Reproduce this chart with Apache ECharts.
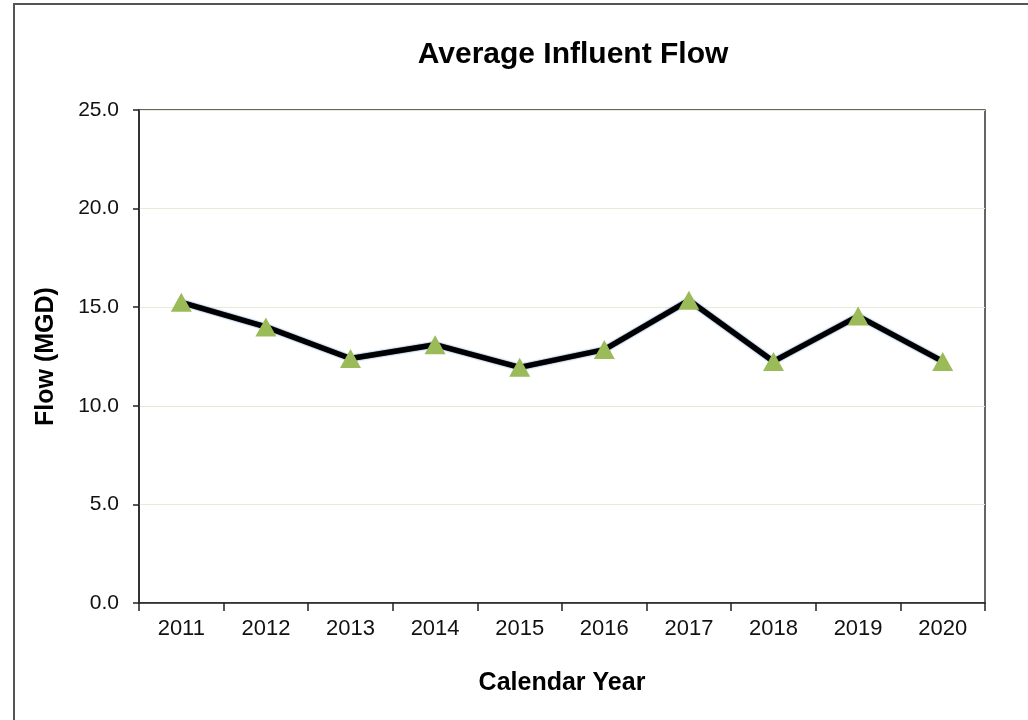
<!DOCTYPE html>
<html>
<head>
<meta charset="utf-8">
<script src="https://cdn.jsdelivr.net/npm/echarts@6/dist/echarts.min.js"></script>
<style>
  html, body { margin: 0; padding: 0; background: #fff; }
  #chart { width: 1028px; height: 720px; }
</style>
</head>
<body>
<div id="chart"></div>
<script>
// data
const years = ["2011", "2012", "2013", "2014", "2015", "2016", "2017", "2018", "2019", "2020"];
const flow = [15.25, 14.0, 12.4, 13.1, 11.95, 12.85, 15.35, 12.25, 14.55, 12.25];
const yTicks = [0, 5, 10, 15, 20, 25];

const chart = echarts.init(document.getElementById("chart"));
const font = "Liberation Sans, Arial, sans-serif";

chart.setOption({
  animation: false,
  backgroundColor: "#fff",
  title: {
    text: "Average Influent Flow",
    left: 568,
    top: 35,
    textAlign: "center",
    textStyle: { fontFamily: font, fontSize: 30, fontWeight: "bold", color: "#000" }
  },
  graphic: [
    {
      type: "rect",
      shape: { x: 14, y: 4, width: 1100, height: 800 },
      style: { fill: "none", stroke: "#555", lineWidth: 2 },
      silent: true
    }
  ],
  grid: { left: 139, right: 43, top: 110, bottom: 117, show: true, borderColor: "#333", borderWidth: 1.5 },
  xAxis: {
    type: "category",
    data: years,
    boundaryGap: true,
    name: "Calendar Year",
    nameLocation: "middle",
    nameGap: 68,
    nameTextStyle: { fontFamily: font, fontSize: 25, fontWeight: "bold", color: "#000" },
    axisLine: { lineStyle: { color: "#222", width: 1.5 } },
    axisTick: { show: true, length: 8, alignWithLabel: false, lineStyle: { color: "#222", width: 1.5 } },
    axisLabel: { fontFamily: font, fontSize: 22, color: "#111", margin: 15 },
    splitLine: { show: false }
  },
  yAxis: {
    type: "value",
    min: yTicks[0],
    max: yTicks[yTicks.length - 1],
    interval: 5,
    name: "Flow (MGD)",
    nameLocation: "middle",
    nameGap: 80,
    nameRotate: 90,
    nameTextStyle: { fontFamily: font, fontSize: 25, fontWeight: "bold", color: "#000" },
    axisLine: { show: true, lineStyle: { color: "#222", width: 1.5 } },
    axisTick: { show: true, length: 6, lineStyle: { color: "#222", width: 1.5 } },
    axisLabel: {
      fontFamily: font, fontSize: 21, color: "#111", margin: 20,
      formatter: v => v.toFixed(1)
    },
    splitLine: { show: true, lineStyle: { color: "#e6ead6", width: 1 } }
  },
  series: [
    {
      type: "line",
      data: flow,
      symbol: "triangle",
      symbolSize: [21, 19],
      itemStyle: { color: "#9bbb59", borderWidth: 0 },
      lineStyle: {
        color: "#000",
        width: 5.5,
        shadowColor: "#3b6fb6",
        shadowBlur: 2
      },
      z: 3
    }
  ]
});
</script>
</body>
</html>
